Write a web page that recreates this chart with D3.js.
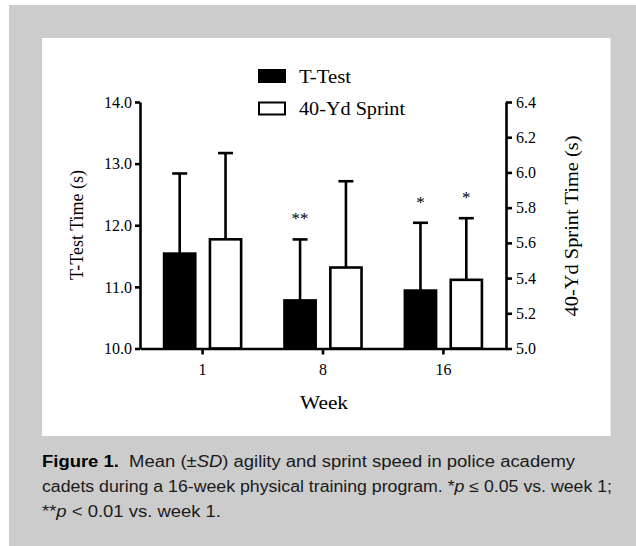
<!DOCTYPE html>
<html>
<head>
<meta charset="utf-8">
<script src="https://cdn.jsdelivr.net/npm/d3@7"></script>
<style>
html,body{margin:0;padding:0;background:#fff;}
svg{display:block;}
</style>
</head>
<body>
<svg id="chart" width="636" height="546"></svg>
<script>
// ---- data ----
const weeks = ["1", "8", "16"];
const series = ["T-Test", "40-Yd Sprint"];
const ttestMean = [11.54, 10.78, 10.94];
const ttestSD = [1.30, 0.99, 1.10];
const sprintMean = [5.62, 5.46, 5.39];
const sprintSD = [0.49, 0.49, 0.35];
const ttestStars = ["", "**", "*"];
const sprintStars = ["", "", "*"];
const leftTicks = [10, 11, 12, 13, 14];
const rightTicks = [5.0, 5.2, 5.4, 5.6, 5.8, 6.0, 6.2, 6.4];

const svg = d3.select("#chart");
const serif = "'Liberation Serif','Times New Roman',serif";
const sans = "'Liberation Sans',Arial,Helvetica,sans-serif";

// background frame
svg.append("rect").attr("x", 9).attr("y", 5).attr("width", 627).attr("height", 541).attr("fill", "#cccccc");
svg.append("rect").attr("x", 42).attr("y", 38).attr("width", 568.5).attr("height", 398).attr("fill", "#ffffff");

const plotL = 140, plotR = 506, plotT = 102, plotB = 348.5;

const yL = d3.scaleLinear().domain([10, 14]).range([plotB, plotT]);
const yR = d3.scaleLinear().domain([5.0, 6.4]).range([plotB, plotT]);
const x0 = d3.scaleBand().domain(weeks).range([plotL, plotR]).paddingInner(0.36).paddingOuter(0.2);
const x1 = d3.scaleBand().domain(series).range([0, x0.bandwidth()]).paddingInner(0.32);

const rows = weeks.map((w, i) => ([
  {week: w, s: series[0], v: ttestMean[i], sd: ttestSD[i], star: ttestStars[i], y: yL, fill: "#000"},
  {week: w, s: series[1], v: sprintMean[i], sd: sprintSD[i], star: sprintStars[i], y: yR, fill: "#fff"}
])).flat();

const sw = 2.6;
const g = svg.append("g");

// bars
g.selectAll("rect.bar").data(rows).join("rect")
  .attr("class", "bar")
  .attr("x", d => x0(d.week) + x1(d.s))
  .attr("width", x1.bandwidth())
  .attr("y", d => d.y(d.v))
  .attr("height", d => plotB - d.y(d.v))
  .attr("fill", d => d.fill)
  .attr("stroke", "#000").attr("stroke-width", sw);

// error bars
const cx = d => x0(d.week) + x1(d.s) + x1.bandwidth() / 2;
g.selectAll("line.err").data(rows).join("line")
  .attr("x1", cx).attr("x2", cx)
  .attr("y1", d => d.y(d.v)).attr("y2", d => d.y(d.v + d.sd))
  .attr("stroke", "#000").attr("stroke-width", sw);
g.selectAll("line.cap").data(rows).join("line")
  .attr("x1", d => cx(d) - 7.5).attr("x2", d => cx(d) + 7.5)
  .attr("y1", d => d.y(d.v + d.sd)).attr("y2", d => d.y(d.v + d.sd))
  .attr("stroke", "#000").attr("stroke-width", sw);

// significance stars
g.selectAll("text.star").data(rows.filter(d => d.star)).join("text")
  .attr("x", cx)
  .attr("y", d => d.y(d.v + d.sd) - 15)
  .attr("text-anchor", "middle")
  .attr("font-family", serif).attr("font-size", 17)
  .text(d => d.star);

// axes
function styleAxis(sel) {
  sel.selectAll("path.domain").attr("stroke", "#000").attr("stroke-width", sw);
  sel.selectAll(".tick line").attr("stroke", "#000").attr("stroke-width", sw);
  sel.selectAll(".tick text").attr("font-family", serif).attr("font-size", 16).attr("fill", "#000");
}
const axL = svg.append("g").attr("transform", `translate(${plotL},0)`)
  .call(d3.axisLeft(yL).tickValues(leftTicks).tickFormat(d3.format(".1f")).tickSize(5).tickSizeOuter(0).tickPadding(3));
styleAxis(axL);
const axR = svg.append("g").attr("transform", `translate(${plotR},0)`)
  .call(d3.axisRight(yR).tickValues(rightTicks).tickFormat(d3.format(".1f")).tickSize(6).tickSizeOuter(0).tickPadding(4));
styleAxis(axR);
const axB = svg.append("g").attr("transform", `translate(0,${plotB})`)
  .call(d3.axisBottom(x0).tickSize(6).tickSizeOuter(0).tickPadding(9));
styleAxis(axB);

// axis titles
svg.append("text").attr("transform", `translate(83,225) rotate(-90)`)
  .attr("text-anchor", "middle").attr("font-family", serif).attr("font-size", 18)
  .attr("textLength", 110).attr("lengthAdjust", "spacingAndGlyphs")
  .text("T-Test Time (s)");
svg.append("text").attr("transform", `translate(578,226) rotate(-90)`)
  .attr("text-anchor", "middle").attr("font-family", serif).attr("font-size", 18)
  .attr("textLength", 181).attr("lengthAdjust", "spacingAndGlyphs")
  .text("40-Yd Sprint Time (s)");
svg.append("text").attr("x", (plotL + plotR) / 2 + 1).attr("y", 409)
  .attr("text-anchor", "middle").attr("font-family", serif).attr("font-size", 19)
  .attr("textLength", 48).attr("lengthAdjust", "spacingAndGlyphs")
  .text("Week");

// legend
const legLen = [52, 106];
const leg = svg.append("g");
series.forEach((s, i) => {
  const yy = 70 + i * 32.5;
  leg.append("rect").attr("x", 259).attr("y", yy).attr("width", 26).attr("height", 12)
    .attr("fill", i === 0 ? "#000" : "#fff").attr("stroke", "#000").attr("stroke-width", 2);
  leg.append("text").attr("x", 299).attr("y", yy + 12.5)
    .attr("font-family", serif).attr("font-size", 18)
    .attr("textLength", legLen[i]).attr("lengthAdjust", "spacingAndGlyphs").text(s);
});

// caption
const cap = svg.append("g").attr("font-family", sans).attr("font-size", 16).attr("fill", "#1a1a1a");
const l1 = cap.append("text").attr("x", 42).attr("y", 467)
  .attr("textLength", 533).attr("lengthAdjust", "spacingAndGlyphs");
l1.append("tspan").attr("font-weight", "bold").attr("fill", "#000").text("Figure 1.");
l1.append("tspan").text("\u00a0 Mean (\u00b1");
l1.append("tspan").attr("font-style", "italic").text("SD");
l1.append("tspan").text(") agility and sprint speed in police academy");
const l2 = cap.append("text").attr("x", 42).attr("y", 492)
  .attr("textLength", 570).attr("lengthAdjust", "spacingAndGlyphs");
l2.append("tspan").text("cadets during a 16-week physical training program. *");
l2.append("tspan").attr("font-style", "italic").text("p");
l2.append("tspan").text(" \u2264 0.05 vs. week 1;");
const l3 = cap.append("text").attr("x", 42).attr("y", 517)
  .attr("textLength", 179).attr("lengthAdjust", "spacingAndGlyphs");
l3.append("tspan").text("**");
l3.append("tspan").attr("font-style", "italic").text("p");
l3.append("tspan").text(" < 0.01 vs. week 1.");
</script>
</body>
</html>
